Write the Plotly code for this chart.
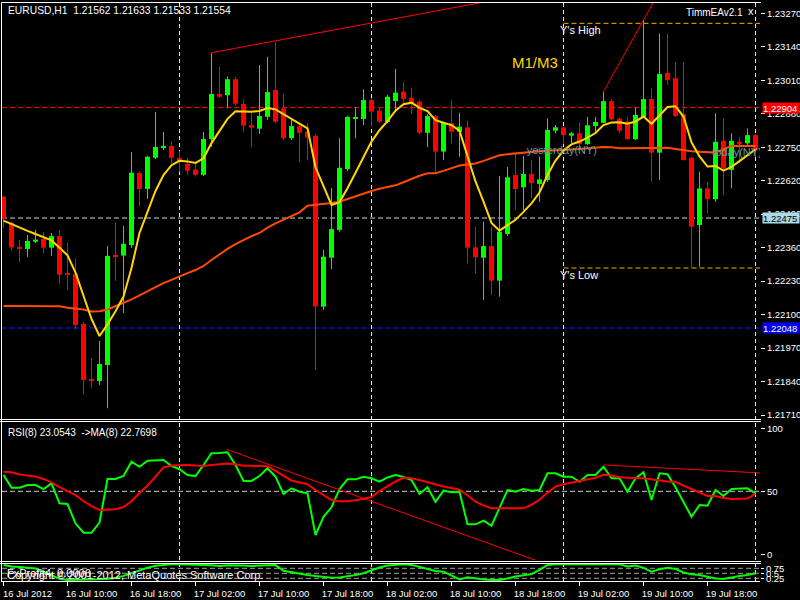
import plotly.graph_objects as go

W, H = 800, 600
FONT = "Liberation Sans, Arial, sans-serif"

# ---------------- data ----------------
bar_index = list(range(95))

opens = [1.22558, 1.22457, 1.22363, 1.22355, 1.22383, 1.22394, 1.22360, 1.22405, 1.22259, 1.22258,
         1.22064, 1.21850, 1.21842, 1.21904, 1.22331, 1.22329, 1.22370, 1.22650, 1.22588, 1.22709,
         1.22747, 1.22755, 1.22708, 1.22685, 1.22663, 1.22643, 1.22781, 1.22957, 1.22952, 1.23014,
         1.22918, 1.22836, 1.22822, 1.22868, 1.22972, 1.22901, 1.22785, 1.22832, 1.22810, 1.22794,
         1.22131, 1.22321, 1.22429, 1.22665, 1.22860, 1.22860, 1.22933, 1.22892, 1.22848, 1.22929,
         1.22966, 1.22942, 1.22927, 1.22806, 1.22871, 1.22733, 1.22843, 1.22810, 1.22827, 1.22361,
         1.22321, 1.22366, 1.22232, 1.22413, 1.22642, 1.22594, 1.22646, 1.22607, 1.22623, 1.22814,
         1.22827, 1.22795, 1.22804, 1.22762, 1.22832, 1.22845, 1.22929, 1.22861, 1.22849, 1.22781,
         1.22868, 1.22937, 1.22729, 1.23039, 1.23018, 1.22879, 1.22709, 1.22448, 1.22590, 1.22548,
         1.22775, 1.22662, 1.22771, 1.22765, 1.22797]

highs = [1.22561, 1.22460, 1.22390, 1.22409, 1.22429, 1.22421, 1.22417, 1.22429, 1.22379, 1.22320,
         1.22071, 1.21932, 1.21998, 1.22366, 1.22457, 1.22444, 1.22731, 1.22657, 1.22717, 1.22887,
         1.22809, 1.22774, 1.22735, 1.22709, 1.22685, 1.22809, 1.23117, 1.23063, 1.23024, 1.23023,
         1.22936, 1.22884, 1.23069, 1.23101, 1.23160, 1.22959, 1.22856, 1.22843, 1.22844, 1.22800,
         1.22351, 1.22592, 1.22785, 1.22871, 1.22907, 1.22975, 1.22940, 1.22901, 1.22953, 1.23054,
         1.23004, 1.22979, 1.22933, 1.22879, 1.22875, 1.22845, 1.22933, 1.22884, 1.22853, 1.22441,
         1.22461, 1.22441, 1.22638, 1.22674, 1.22726, 1.22716, 1.22700, 1.22713, 1.22862, 1.22836,
         1.22832, 1.22810, 1.22845, 1.22868, 1.22868, 1.22966, 1.22937, 1.22865, 1.22868, 1.22905,
         1.23244, 1.22979, 1.23192, 1.23192, 1.23082, 1.23082, 1.22712, 1.22655, 1.22616, 1.22882,
         1.22862, 1.22804, 1.22789, 1.22823, 1.22801]

lows = [1.22436, 1.22347, 1.22302, 1.22324, 1.22378, 1.22339, 1.22329, 1.22219, 1.22196, 1.22043,
        1.21788, 1.21815, 1.21827, 1.21736, 1.22231, 1.22106, 1.22359, 1.22519, 1.22549, 1.22704,
        1.22739, 1.22685, 1.22655, 1.22643, 1.22636, 1.22638, 1.22752, 1.22941, 1.22901, 1.22911,
        1.22809, 1.22750, 1.22801, 1.22856, 1.22844, 1.22778, 1.22778, 1.22690, 1.22700, 1.21885,
        1.22118, 1.22277, 1.22422, 1.22657, 1.22785, 1.22836, 1.22830, 1.22845, 1.22843, 1.22894,
        1.22921, 1.22879, 1.22801, 1.22750, 1.22651, 1.22700, 1.22765, 1.22713, 1.22299, 1.22260,
        1.22157, 1.22176, 1.22170, 1.22405, 1.22506, 1.22506, 1.22552, 1.22538, 1.22615, 1.22804,
        1.22762, 1.22765, 1.22752, 1.22759, 1.22804, 1.22843, 1.22856, 1.22804, 1.22781, 1.22778,
        1.22865, 1.22616, 1.22623, 1.22992, 1.22868, 1.22700, 1.22280, 1.22286, 1.22493, 1.22538,
        1.22564, 1.22590, 1.22688, 1.22759, 1.22713]

closes = [1.22471, 1.22361, 1.22355, 1.22386, 1.22391, 1.22360, 1.22405, 1.22255, 1.22254, 1.22060,
          1.21846, 1.21842, 1.21908, 1.22328, 1.22324, 1.22375, 1.22651, 1.22588, 1.22713, 1.22751,
          1.22755, 1.22709, 1.22695, 1.22659, 1.22643, 1.22782, 1.22957, 1.22946, 1.23014, 1.22919,
          1.22834, 1.22826, 1.22871, 1.22964, 1.22849, 1.22785, 1.22832, 1.22806, 1.22787, 1.22131,
          1.22325, 1.22432, 1.22670, 1.22868, 1.22867, 1.22933, 1.22888, 1.22849, 1.22946, 1.22962,
          1.22937, 1.22921, 1.22806, 1.22871, 1.22733, 1.22845, 1.22810, 1.22830, 1.22360, 1.22323,
          1.22366, 1.22232, 1.22422, 1.22633, 1.22588, 1.22646, 1.22610, 1.22625, 1.22817, 1.22827,
          1.22797, 1.22804, 1.22762, 1.22835, 1.22848, 1.22929, 1.22858, 1.22814, 1.22781, 1.22875,
          1.22937, 1.22729, 1.23034, 1.23011, 1.22871, 1.22700, 1.22441, 1.22590, 1.22548, 1.22771,
          1.22668, 1.22775, 1.22762, 1.22797, 1.22739]

ma_fast = [1.22465, 1.22451, 1.22437, 1.22425, 1.22413, 1.22402, 1.22388, 1.22360, 1.22330, 1.22263,
           1.22170, 1.22083, 1.22017, 1.22062, 1.22113, 1.22170, 1.22281, 1.22417, 1.22499, 1.22580,
           1.22642, 1.22680, 1.22697, 1.22695, 1.22689, 1.22707, 1.22766, 1.22813, 1.22860, 1.22890,
           1.22889, 1.22888, 1.22891, 1.22902, 1.22897, 1.22879, 1.22860, 1.22844, 1.22823, 1.22672,
           1.22597, 1.22526, 1.22537, 1.22591, 1.22651, 1.22713, 1.22772, 1.22816, 1.22851, 1.22892,
           1.22917, 1.22923, 1.22903, 1.22890, 1.22855, 1.22845, 1.22836, 1.22814, 1.22711, 1.22617,
           1.22539, 1.22456, 1.22426, 1.22446, 1.22468, 1.22499, 1.22532, 1.22574, 1.22642, 1.22698,
           1.22737, 1.22761, 1.22772, 1.22787, 1.22805, 1.22836, 1.22846, 1.22847, 1.22841, 1.22850,
           1.22869, 1.22841, 1.22872, 1.22906, 1.22909, 1.22869, 1.22769, 1.22714, 1.22675, 1.22677,
           1.22659, 1.22674, 1.22696, 1.22718, 1.22742]

ma_slow = [1.22133, 1.22133, 1.22133, 1.22133, 1.22133, 1.22133, 1.22133, 1.22132, 1.22127, 1.22124,
           1.22120, 1.22112, 1.22113, 1.22120, 1.22132, 1.22145, 1.22159, 1.22175, 1.22191, 1.22206,
           1.22222, 1.22235, 1.22249, 1.22261, 1.22273, 1.22289, 1.22312, 1.22334, 1.22355, 1.22374,
           1.22390, 1.22405, 1.22417, 1.22438, 1.22454, 1.22468, 1.22483, 1.22497, 1.22523, 1.22526,
           1.22528, 1.22533, 1.22538, 1.22549, 1.22561, 1.22571, 1.22580, 1.22589, 1.22596, 1.22602,
           1.22614, 1.22627, 1.22639, 1.22649, 1.22649, 1.22658, 1.22669, 1.22679, 1.22683, 1.22687,
           1.22697, 1.22708, 1.22719, 1.22723, 1.22726, 1.22730, 1.22733, 1.22734, 1.22736, 1.22737,
           1.22739, 1.22741, 1.22743, 1.22746, 1.22749, 1.22751, 1.22750, 1.22746, 1.22746, 1.22747,
           1.22747, 1.22747, 1.22748, 1.22748, 1.22743, 1.22738, 1.22734, 1.22732, 1.22730, 1.22729,
           1.22742, 1.22755, 1.22755, 1.22755, 1.22755]

rsi = [62.9, 52.9, 52.9, 55.0, 55.0, 51.8, 56.3, 40.5, 39.9, 24.6,
       17.1, 17.1, 25.1, 59.8, 59.8, 62.1, 73.5, 69.5, 74.3, 74.8,
       74.8, 70.1, 67.5, 62.9, 62.1, 70.9, 80.2, 80.4, 81.0, 70.9,
       58.2, 58.2, 62.1, 68.3, 61.6, 47.9, 52.4, 49.7, 48.4, 15.3,
       29.8, 37.3, 51.8, 59.5, 59.5, 61.6, 60.3, 57.6, 61.0, 62.9,
       61.3, 59.0, 47.9, 53.2, 41.7, 50.5, 49.2, 49.7, 23.8, 23.8,
       26.7, 22.7, 36.5, 51.0, 49.7, 51.8, 50.5, 51.0, 64.3, 64.3,
       61.6, 61.6, 57.6, 62.9, 62.9, 69.5, 60.3, 60.3, 49.7, 60.3,
       65.1, 43.1, 64.3, 63.5, 53.2, 41.7, 29.8, 39.1, 38.6, 51.0,
       46.3, 51.8, 52.1, 52.4, 48.4]

rsi_ma = [65.5, 65.1, 63.3, 62.4, 61.7, 59.8, 57.1, 53.4, 50.2, 46.9,
          42.3, 38.3, 35.2, 35.2, 35.8, 37.5, 42.1, 48.7, 54.6, 61.7,
          69.0, 70.4, 70.9, 70.9, 70.4, 70.1, 70.9, 71.7, 72.1, 71.4,
          70.3, 70.2, 70.1, 69.9, 66.2, 62.1, 58.6, 57.0, 55.6, 51.0,
          47.1, 43.1, 42.1, 42.1, 42.9, 44.3, 45.5, 50.2, 54.2, 57.8,
          60.7, 60.4, 59.0, 57.1, 55.4, 53.8, 52.6, 51.2, 46.9, 41.7,
          38.8, 36.5, 36.5, 36.5, 36.5, 36.5, 39.3, 43.4, 48.8, 53.7,
          55.6, 57.0, 58.2, 59.3, 60.8, 63.1, 62.5, 61.2, 60.7, 60.3,
          60.3, 59.5, 58.3, 57.8, 57.4, 54.6, 52.0, 49.0, 46.3, 46.3,
          44.7, 43.9, 43.9, 44.3, 47.9]

osc = [0.92, 0.84, 0.81, 0.78, 0.74, 0.57, 0.39, 0.23, 0.17, 0.17,
       0.17, 0.18, 0.20, 0.23, 0.27, 0.37, 0.52, 0.66, 0.78, 0.88,
       0.93, 0.95, 0.95, 0.95, 0.94, 0.92, 0.90, 0.87, 0.90, 0.91,
       0.89, 0.87, 0.88, 0.90, 0.91, 0.63, 0.55, 0.48, 0.42, 0.36,
       0.32, 0.28, 0.29, 0.34, 0.42, 0.50, 0.64, 0.79, 0.89, 0.93,
       0.95, 0.92, 0.82, 0.70, 0.62, 0.58, 0.37, 0.19, 0.30, 0.24,
       0.19, 0.17, 0.17, 0.24, 0.34, 0.40, 0.46, 0.67, 0.92, 0.95,
       0.95, 0.95, 0.95, 0.95, 0.95, 0.95, 0.95, 0.95, 0.84, 0.89,
       0.77, 0.58, 0.70, 0.78, 0.72, 0.54, 0.45, 0.42, 0.33, 0.24,
       0.21, 0.30, 0.37, 0.42, 0.50]

x_tick_bars = [0, 8, 16, 24, 32, 40, 48, 56, 64, 72, 80, 88]
x_tick_labels = ["16 Jul 2012", "16 Jul 10:00", "16 Jul 18:00", "17 Jul 02:00",
                 "17 Jul 10:00", "17 Jul 18:00", "18 Jul 02:00", "18 Jul 10:00",
                 "18 Jul 18:00", "19 Jul 02:00", "19 Jul 10:00", "19 Jul 18:00"]
price_ticks = [1.21710, 1.21840, 1.21970, 1.22100, 1.22230, 1.22360, 1.22490,
               1.22620, 1.22750, 1.22880, 1.23010, 1.23140, 1.23270]
rsi_ticks = [0, 50, 100]
osc_ticks = [0.25, 0.5, 0.75]
osc_tick_labels = ["0.25", "0.5", "0.75"]

day_separators = [22, 46, 70, 94]
bid_level = 1.22904
pivot_level = 1.22475
support_level = 1.22048
y_high = 1.23231
y_low = 1.22281
y_levels_start = 70
trend1_x, trend1_y = [26, 70], [1.23117, 1.23371]
trend2_x, trend2_y = [75, 82], [1.22966, 1.23355]
rsi_trend1_x, rsi_trend1_y = [27.9, 66.5], [83.3, -4.7]
rsi_trend2_x, rsi_trend2_y = [75, 94.6], [70.9, 64.6]
yesterday_pos = (65.4, 1.22735)
today_pos = (88.6, 1.22727)

# ---------------- layout helpers ----------------
def px(x):
    return x / W


def py(y):
    return 1 - y / H


X0, X1 = -0.1875, 94.5625
GREEN, RED = "#00ff00", "#ff0000"
DASH = "5px,3px"

fig = go.Figure()

up = [i for i in bar_index if closes[i] >= opens[i]]
dn = [i for i in bar_index if closes[i] < opens[i]]


def wick(idx):
    xs, ys = [], []
    for i in idx:
        xs += [i, i, None]
        ys += [lows[i], highs[i], None]
    return xs, ys


MIN_BODY = 0.00004


def body(idx):
    base, hgt = [], []
    for i in idx:
        lo, hi = min(opens[i], closes[i]), max(opens[i], closes[i])
        d = hi - lo
        if d < MIN_BODY:
            lo -= (MIN_BODY - d) / 2
            d = MIN_BODY
        base.append(lo)
        hgt.append(d)
    return base, hgt


for idx, col in ((up, GREEN), (dn, RED)):
    wx, wy = wick(idx)
    fig.add_trace(go.Scatter(x=wx, y=wy, mode="lines", line=dict(color=col, width=1),
                             hoverinfo="skip", xaxis="x", yaxis="y"))
for idx, col in ((up, GREEN), (dn, RED)):
    b, h = body(idx)
    fig.add_trace(go.Bar(x=idx, y=h, base=b, width=0.625,
                         marker=dict(color=col, line=dict(width=0)),
                         hoverinfo="skip", xaxis="x", yaxis="y"))

fig.add_trace(go.Scatter(x=bar_index, y=ma_slow, mode="lines",
                         line=dict(color="#ff4a00", width=2), xaxis="x", yaxis="y"))
fig.add_trace(go.Scatter(x=bar_index, y=ma_fast, mode="lines",
                         line=dict(color="#ffd700", width=2), xaxis="x", yaxis="y"))
fig.add_trace(go.Scatter(x=trend1_x, y=trend1_y, mode="lines",
                         line=dict(color=RED, width=1), xaxis="x", yaxis="y"))
fig.add_trace(go.Scatter(x=trend2_x, y=trend2_y, mode="lines",
                         line=dict(color=RED, width=1), xaxis="x", yaxis="y"))
fig.add_trace(go.Scatter(x=[yesterday_pos[0]], y=[yesterday_pos[1]], mode="text",
                         text=["yesterday(NY)"], textposition="middle right",
                         textfont=dict(color="#5f9ea0", size=11, family=FONT),
                         cliponaxis=True, xaxis="x", yaxis="y"))
fig.add_trace(go.Scatter(x=[today_pos[0]], y=[today_pos[1]], mode="text",
                         text=["today(NY)"], textposition="middle right",
                         textfont=dict(color="#5f9ea0", size=11, family=FONT),
                         cliponaxis=True, xaxis="x", yaxis="y"))

# RSI panel
fig.add_trace(go.Scatter(x=bar_index, y=rsi, mode="lines",
                         line=dict(color=GREEN, width=2), xaxis="x", yaxis="y2"))
fig.add_trace(go.Scatter(x=bar_index, y=rsi_ma, mode="lines",
                         line=dict(color=RED, width=2), xaxis="x", yaxis="y2"))
fig.add_trace(go.Scatter(x=rsi_trend1_x, y=rsi_trend1_y, mode="lines",
                         line=dict(color=RED, width=1), xaxis="x", yaxis="y2"))
fig.add_trace(go.Scatter(x=rsi_trend2_x, y=rsi_trend2_y, mode="lines",
                         line=dict(color=RED, width=1), xaxis="x", yaxis="y2"))

# bottom oscillator
fig.add_trace(go.Scatter(x=bar_index, y=osc, mode="lines",
                         line=dict(color=GREEN, width=2), xaxis="x", yaxis="y3"))

shapes = []
for lvl, col in ((bid_level, RED), (pivot_level, "#b8d8ea"), (support_level, "#1a1aff")):
    shapes.append(dict(type="line", xref="x domain", x0=0, x1=1, yref="y", y0=lvl, y1=lvl,
                       line=dict(color=col, width=1, dash=DASH), layer="below"))
for lvl in (y_high, y_low):
    shapes.append(dict(type="line", xref="x", x0=y_levels_start, x1=X1, yref="y", y0=lvl, y1=lvl,
                       line=dict(color="#ffa500", width=1, dash=DASH), layer="below"))
for d in day_separators:
    shapes.append(dict(type="line", xref="x", x0=d, x1=d, yref="paper", y0=py(581), y1=py(3),
                       line=dict(color="#e8e8e8", width=1, dash="4px,3px"), layer="below"))
shapes.append(dict(type="line", xref="x domain", x0=0, x1=1, yref="y2", y0=50, y1=50,
                   line=dict(color="#c8c8c8", width=1, dash=DASH), layer="below"))
for lvl in osc_ticks:
    shapes.append(dict(type="line", xref="x domain", x0=0, x1=1, yref="y3", y0=lvl, y1=lvl,
                       line=dict(color="#a0a0a0", width=1, dash=DASH), layer="below"))
frame = dict(color="white", width=1)
shapes += [
    dict(type="line", xref="paper", yref="paper", x0=px(1.5), x1=px(761), y0=py(2.5), y1=py(2.5), line=frame),
    dict(type="line", xref="paper", yref="paper", x0=px(1.5), x1=px(1.5), y0=py(2.5), y1=py(582), line=frame),
    dict(type="line", xref="paper", yref="paper", x0=0, x1=px(761), y0=py(419.5), y1=py(419.5), line=frame),
    dict(type="line", xref="paper", yref="paper", x0=0, x1=px(761), y0=py(421.5), y1=py(421.5), line=frame),
    dict(type="line", xref="paper", yref="paper", x0=0, x1=px(761), y0=py(561.5), y1=py(561.5), line=frame),
    dict(type="line", xref="paper", yref="paper", x0=0, x1=px(761), y0=py(563.5), y1=py(563.5), line=frame),
]

annotations = []


def label(text, x, y, size=10, color="white", anchor="left"):
    annotations.append(dict(text=text, xref="paper", yref="paper", x=px(x), y=py(y),
                            xanchor=anchor, yanchor="middle", showarrow=False,
                            font=dict(family=FONT, size=size, color=color)))


label("EURUSD,H1  1.21562 1.21633 1.21533 1.21554", 5.5, 11, size=10.3)
label("TimmEAv2.1", 684, 12)
label("x", 746, 11, size=11)
label("Y's High", 558, 30, size=11)
label("Y's Low", 558, 275, size=11)
label("M1/M3", 510, 63, size=15, color="#ffd700")
label("RSI(8) 23.0543  ->MA(8) 22.7698", 5.5, 432)
label("FxProfit4  0.0006", 5, 573, size=11)
label("Copyright \u00a9 2001-2012, MetaQuotes Software Corp.", 5, 575, size=11)

for lvl, bg, fg in ((bid_level, RED, "white"), (pivot_level, "#add8e6", "black"),
                    (support_level, "#0000ff", "white")):
    annotations.append(dict(text=f"{lvl:.5f}", xref="paper", yref="y", x=px(762), y=lvl,
                            xanchor="left", yanchor="middle", showarrow=False,
                            bgcolor=bg, width=36, height=10, borderpad=0, align="left",
                            font=dict(family=FONT, size=9.5, color=fg)))

tickfont = dict(family=FONT, size=9.5, color="white")
fig.update_layout(
    width=W, height=H, margin=dict(l=0, r=0, t=0, b=0),
    paper_bgcolor="black", plot_bgcolor="black", showlegend=False,
    barmode="overlay", hovermode=False,
    font=dict(family=FONT, size=10, color="white"),
    shapes=shapes, annotations=annotations,
    xaxis=dict(domain=[px(2), px(760)], range=[X0, X1], anchor="y3",
               showgrid=False, zeroline=False, showline=True, linecolor="white", linewidth=1,
               tickmode="array", tickvals=x_tick_bars, ticktext=x_tick_labels,
               ticks="outside", ticklen=4, tickcolor="white", tickfont=tickfont,
               ticklabelshift=24, fixedrange=True, automargin=False),
    yaxis=dict(domain=[py(418), py(3)], range=[1.216985, 1.233100], anchor="x", side="right",
               showgrid=False, zeroline=False, showline=False, automargin=False,
               tickmode="array", tickvals=price_ticks, ticktext=[f"{v:.5f}" for v in price_ticks],
               ticks="outside", ticklen=4, tickcolor="white", tickfont=tickfont),
    yaxis2=dict(domain=[py(560), py(422)], range=[-4.52, 105.0], anchor="x", side="right",
                showgrid=False, zeroline=False, showline=False, automargin=False,
                tickmode="array", tickvals=rsi_ticks, ticktext=[str(v) for v in rsi_ticks],
                ticks="outside", ticklen=4, tickcolor="white", tickfont=tickfont),
    yaxis3=dict(domain=[py(581), py(564)], range=[0.115, 0.965], anchor="x", side="right",
                showgrid=False, zeroline=False, showline=False, automargin=False,
                tickmode="array", tickvals=osc_ticks, ticktext=osc_tick_labels,
                ticks="outside", ticklen=3, tickcolor="white", tickfont=tickfont),
)

fig.write_html("out.html", config={"displayModeBar": False},
               post_script="document.body.style.margin='0';document.body.style.padding='0';document.body.style.overflow='hidden';")
